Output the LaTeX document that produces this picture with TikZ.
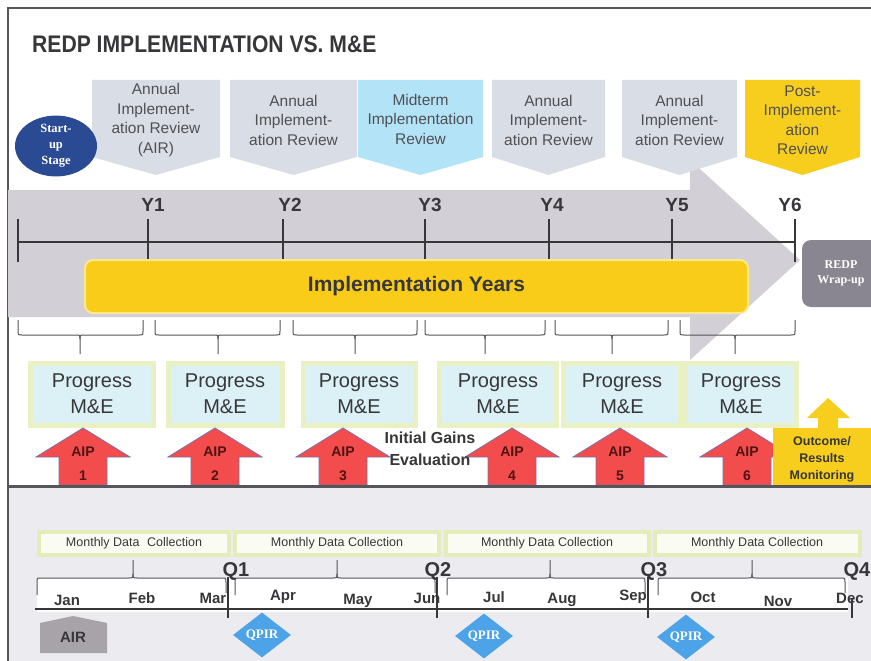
\documentclass[tikz,border=0pt]{standalone}
\usepackage{fontspec}
\usepackage{graphicx}
\setmainfont{Liberation Sans}
\newfontfamily\serifbold{Liberation Serif}
\usetikzlibrary{shapes.geometric}
\definecolor{framegray}{RGB}{85,85,90}
\definecolor{arrowgray}{RGB}{210,207,214}
\definecolor{revgray}{RGB}{217,222,230}
\definecolor{midblue}{RGB}{178,227,246}
\definecolor{postyel}{RGB}{248,206,30}
\definecolor{navy}{RGB}{43,74,148}
\definecolor{implyel}{RGB}{248,204,24}
\definecolor{impledge}{RGB}{252,232,140}
\definecolor{wrapgray}{RGB}{138,134,145}
\definecolor{pmefill}{RGB}{220,241,246}
\definecolor{pmeglow}{RGB}{233,240,195}
\definecolor{aipred}{RGB}{242,76,76}
\definecolor{aipedge}{RGB}{125,112,170}
\definecolor{aiptxt}{RGB}{80,20,20}
\definecolor{lowbg}{RGB}{236,236,240}
\definecolor{mdcfill}{RGB}{250,251,242}
\definecolor{mdcglow}{RGB}{228,237,185}
\definecolor{airgray}{RGB}{168,163,168}
\definecolor{qpirblue}{RGB}{77,163,232}
\definecolor{darktxt}{RGB}{55,55,58}
\definecolor{revtxt}{RGB}{80,80,84}
\definecolor{brcgray}{RGB}{85,85,88}
\newcommand\myRevbox[6]{%
  \fill[#4] (#2,80) -- (#3,80) -- (#3,157) -- ({(#2+#3)/2},175) -- (#2,157) -- cycle;
  \node[revtext] (#1) at ({(#2+#3)/2},#6) {#5};}
\newcommand\myAip[3]{%
  \filldraw[aiparrow] ({#2-24},485) -- ({#2-24},457) -- ({#2-47},457) -- (#2,428) -- ({#2+47},457) -- ({#2+24},457) -- ({#2+24},485) -- cycle;
  \node[aiptext] (#1) at (#2,464) {AIP\\#3};}
\newcommand\myUbrace[3]{%
  \draw[brc] (#1,320) -- (#1,331) .. controls (#1,335) .. ({#1+4},335) -- ({#3-4},335) .. controls (#3,335) .. (#3,339) -- (#3,354);
  \draw[brc] (#2,320) -- (#2,331) .. controls (#2,335) .. ({#2-4},335) -- ({#3+4},335) .. controls (#3,335) .. (#3,339);}
\newcommand\myDbrace[3]{%
  \draw[brc] (#1,595) -- (#1,582) .. controls (#1,578) .. ({#1+4},578) -- ({#3-4},578) .. controls (#3,578) .. (#3,574) -- (#3,560);
  \draw[brc] (#2,593) -- (#2,582) .. controls (#2,578) .. ({#2-4},578) -- ({#3+4},578) .. controls (#3,578) .. (#3,574);}
\begin{document}
\begin{tikzpicture}[x=1pt,y=-1pt,
  revtext/.style={align=center, font=\fontsize{15.5}{19.5}\selectfont, text=revtxt, inner sep=0},
  tl/.style={draw=darktxt, line width=1.1},
  brc/.style={draw=brcgray, line width=1},
  ylab/.style={font=\fontsize{19}{19}\selectfont\bfseries, text=darktxt, inner sep=0},
  pme/.style={draw=pmeglow, line width=5, fill=pmefill, minimum height=62, inner sep=0,
    font=\fontsize{20}{26}\selectfont, text=darktxt, align=center},
  aiparrow/.style={fill=aipred, draw=aipedge, line width=0.8},
  aiptext/.style={align=center, font=\fontsize{14}{24}\selectfont\bfseries, text=aiptxt, inner sep=0},
  mdc/.style={draw=mdcglow, line width=4, fill=mdcfill, minimum height=23, inner sep=0,
    font=\fontsize{12.5}{12.5}\selectfont, text=darktxt},
  month/.style={font=\fontsize{15}{15}\selectfont\bfseries, text=darktxt, inner sep=0},
  qlab/.style={font=\fontsize{20}{20}\selectfont\bfseries, text=darktxt, inner sep=0},
  qpir/.style={diamond, aspect=1.29, fill=qpirblue, minimum width=58, minimum height=45, inner sep=0,
    text=white, font=\serifbold\bfseries\fontsize{13}{13}\selectfont}]
% canvas
\fill[white] (0,0) rectangle (871,661);
\useasboundingbox (0,0) rectangle (871,661);
\fill[lowbg] (8,487) rectangle (871,661);
\draw[framegray, line width=2] (871,8) -- (8,8) -- (8,661);
% title
\node[anchor=west, inner sep=0, text=darktxt, font=\fontsize{24}{24}\selectfont\bfseries] (title) at (32,44)
  {\scalebox{0.88}[1]{REDP IMPLEMENTATION VS. M\&E}};
% big grey arrow
\fill[arrowgray] (8,190) -- (690,190) -- (690,160) -- (800,260) -- (690,360) -- (690,317) -- (8,317) -- cycle;
% review boxes
\myRevbox{r1}{92}{220}{revgray}{Annual\\Implement-\\ation Review\\(AIR)}{120}
\myRevbox{r2}{230}{357}{revgray}{Annual\\Implement-\\ation Review}{120}
\myRevbox{r3}{358}{483}{midblue}{Midterm\\Implementation\\Review}{119}
\myRevbox{r4}{492}{605}{revgray}{Annual\\Implement-\\ation Review}{120}
\myRevbox{r5}{622}{737}{revgray}{Annual\\Implement-\\ation Review}{120}
\myRevbox{r6}{745}{860}{postyel}{Post-\\Implement-\\ation\\Review}{120}
% start-up
\node[ellipse, fill=navy, minimum width=82, minimum height=58, inner sep=0, align=center,
  text=white, font=\serifbold\bfseries\fontsize{12.5}{16}\selectfont] (start) at (56,146) {Start-\\up\\Stage};
% timeline
\foreach \n/\x in {0/18,1/148,2/283,3/425,4/549,5/672,6/795} {
  \coordinate (t\n) at (\x,242);
  \draw[tl] (\x,219) -- (\x,262);
}
\draw[tl] (t0) -- (t6);
\foreach \n/\x in {1/153,2/290,3/430,4/552,5/677,6/790}
  \node[ylab] (yl\n) at (\x,205) {Y\n};
% implementation bar
\node[draw=impledge, line width=2, fill=implyel, rounded corners=8, minimum width=663, minimum height=53,
  inner sep=0, font=\fontsize{21}{21}\selectfont\bfseries, text=darktxt] (impl) at (416.5,286.5) {Implementation Years};
% wrap-up
\node[fill=wrapgray, rounded corners=9, minimum width=78, minimum height=67, inner sep=0, align=center,
  text=white, font=\serifbold\bfseries\fontsize{12}{15}\selectfont] (wrap) at (841,273.5) {REDP\\Wrap-up};
% braces
\myUbrace{18}{143}{80}
\myUbrace{155}{280}{218}
\myUbrace{293}{417}{355}
\myUbrace{425}{545}{485}
\myUbrace{555}{668}{612}
\myUbrace{680}{795}{735}
% progress boxes
\node[pme, minimum width=123] (p1) at (92,394) {Progress\\M\&E};
\node[pme, minimum width=114] (p2) at (225,394) {Progress\\M\&E};
\node[pme, minimum width=112] (p3) at (359,394) {Progress\\M\&E};
\node[pme, minimum width=117] (p4) at (498,394) {Progress\\M\&E};
\node[pme, minimum width=117] (p5) at (622,394) {Progress\\M\&E};
\node[pme, minimum width=111] (p6) at (741,394) {Progress\\M\&E};
% AIP arrows
\myAip{a1}{83}{1}
\myAip{a2}{215}{2}
\myAip{a3}{343}{3}
\myAip{a4}{512}{4}
\myAip{a5}{620}{5}
\myAip{a6}{747}{6}
\node[align=center, inner sep=0, font=\fontsize{16}{22}\selectfont\bfseries, text=darktxt] (ige) at (430,449)
  {Initial Gains\\Evaluation};
% outcome
\fill[postyel] (773,428) rectangle (871,486);
\fill[postyel] (818,429) -- (818,418) -- (807,418) -- (828,398) -- (850,418) -- (838,418) -- (838,429) -- cycle;
\node[align=center, inner sep=0, font=\fontsize{12.5}{17}\selectfont\bfseries, text=darktxt] (oc) at (822,459)
  {Outcome/\\Results\\Monitoring};
% separator
\draw[framegray, line width=3] (8,486) -- (871,486);
% monthly data collection
\node[mdc, minimum width=190] (m1) at (134,543) {Monthly Data\hspace{0.6em}Collection};
\node[mdc, minimum width=204] (m2) at (337,543) {Monthly Data Collection};
\node[mdc, minimum width=203] (m3) at (547,543) {Monthly Data Collection};
\node[mdc, minimum width=205] (m4) at (757,543) {Monthly Data Collection};
% lower timeline
\fill[white] (37,578) rectangle (848,612);
\myDbrace{37}{226}{133}
\myDbrace{235}{435}{337}
\myDbrace{447}{645}{550}
\myDbrace{658}{845}{752}
\coordinate (lt0) at (35,609);
\coordinate (lt4) at (848,609);
\draw[tl] (lt0) -- (lt4);
\foreach \n/\x/\ya in {1/228/577,2/437/577,3/648/577,4/852/598}
  \draw[tl] (\x,\ya) -- (\x,618);
\foreach \n/\x in {1/236,2/438,3/654,4/857}
  \node[qlab] (q\n) at (\x,571) {Q\n};
\foreach \m/\x/\y in {Jan/67/600,Feb/142/598,Mar/213/598,Apr/283/597,May/358/601,Jun/427/598,
  Jul/494/597,Aug/562/600,Sep/633/597,Oct/703/597,Nov/778/601,Dec/850/598}
  \node[month] (mo\m) at (\x,\y) {\m};
% AIR and QPIR
\fill[airgray] (40,653) -- (40,623) -- (73,616) -- (107,623) -- (107,653) -- cycle;
\node[inner sep=0, font=\fontsize{15}{15}\selectfont\bfseries, text=darktxt] (air) at (73,637) {AIR};
\node[qpir] (qp1) at (262,635) {QPIR};
\node[qpir] (qp2) at (484,636) {QPIR};
\node[qpir] (qp3) at (686,637) {QPIR};
\end{tikzpicture}
\end{document}
